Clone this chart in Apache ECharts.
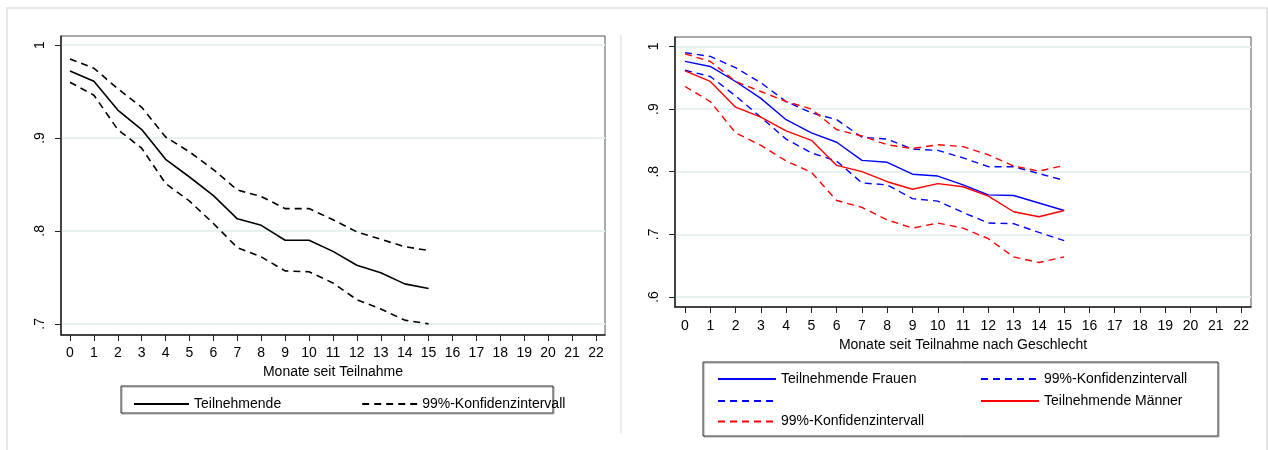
<html>
<head>
<meta charset="utf-8">
<script src="https://cdn.jsdelivr.net/npm/echarts@6/dist/echarts.min.js"></script>
</head>
<body>
<style>
    html, body, #main {
        width: 100%;
        height: 100%;
        margin: 0;
        background: #fff;
    }
</style>
<div id='main'></div>
<script>
// Monate seit Teilnahme
var monate = [0, 1, 2, 3, 4, 5, 6, 7, 8, 9, 10, 11, 12, 13, 14, 15];
var xTicks = [0, 1, 2, 3, 4, 5, 6, 7, 8, 9, 10, 11, 12, 13, 14, 15, 16, 17, 18, 19, 20, 21, 22];
var yTicksLinks = [0.7, 0.8, 0.9, 1];
var yTicksRechts = [0.6, 0.7, 0.8, 0.9, 1];

// linkes Bild: alle Teilnehmenden
var teil = [0.972, 0.961, 0.930, 0.909, 0.877, 0.858, 0.838, 0.813, 0.806, 0.790, 0.790, 0.778, 0.763, 0.755, 0.743, 0.738];
var teilOben = [0.985, 0.975, 0.953, 0.933, 0.901, 0.885, 0.866, 0.844, 0.837, 0.824, 0.824, 0.812, 0.799, 0.791, 0.783, 0.779];
var teilUnten = [0.960, 0.946, 0.909, 0.889, 0.851, 0.832, 0.808, 0.782, 0.772, 0.757, 0.756, 0.744, 0.726, 0.716, 0.704, 0.700];

// rechtes Bild: nach Geschlecht
var frauen = [0.976, 0.968, 0.944, 0.917, 0.883, 0.862, 0.847, 0.818, 0.815, 0.796, 0.793, 0.779, 0.763, 0.762, 0.750, 0.738];
var frauenOben = [0.990, 0.984, 0.966, 0.942, 0.912, 0.894, 0.883, 0.855, 0.852, 0.836, 0.834, 0.822, 0.808, 0.808, 0.797, 0.786];
var frauenUnten = [0.962, 0.952, 0.921, 0.887, 0.852, 0.830, 0.817, 0.782, 0.779, 0.757, 0.753, 0.735, 0.718, 0.717, 0.703, 0.690];
var maenner = [0.961, 0.944, 0.903, 0.887, 0.865, 0.850, 0.810, 0.800, 0.784, 0.772, 0.781, 0.776, 0.761, 0.736, 0.728, 0.738];
var maennerOben = [0.988, 0.976, 0.944, 0.928, 0.912, 0.900, 0.867, 0.857, 0.843, 0.837, 0.843, 0.840, 0.827, 0.809, 0.801, 0.810];
var maennerUnten = [0.936, 0.912, 0.862, 0.842, 0.817, 0.799, 0.754, 0.743, 0.723, 0.710, 0.718, 0.710, 0.693, 0.664, 0.655, 0.664];

var legendText = {
    teil: 'Teilnehmende',
    ci: '99%-Konfidenzintervall',
    frauen: 'Teilnehmende Frauen',
    ciFO: '99%-Konfidenzintervall',
    ciFU: '',
    maenner: 'Teilnehmende Männer',
    ciMU: '99%-Konfidenzintervall'
};

var font = "'Liberation Sans', Arial, sans-serif";

function pairs(ys) {
    return monate.map(function (m, i) { return [m, ys[i]]; });
}
function yLabel(v) {
    return v === 1 ? '1' : String(Math.round(v * 10) / 10).replace('0.', '.');
}

function xAxisFor(grid, name, min, max, gap, margin) {
    return {
        type: 'value', gridIndex: grid, min: min, max: max,
        name: name, nameLocation: 'middle', nameGap: gap,
        nameTextStyle: { color: '#000', fontSize: 14, fontFamily: font },
        axisLine: { show: true, onZero: false, lineStyle: { color: '#222', width: 1.5 } },
        axisTick: { show: true, length: 6, customValues: xTicks, lineStyle: { color: '#222' } },
        axisLabel: { customValues: xTicks, color: '#000', fontSize: 14, fontFamily: font, margin: margin },
        splitLine: { show: false }
    };
}
function yAxisFor(grid, ticks, min, max) {
    return {
        type: 'value', gridIndex: grid, min: min, max: max,
        axisLine: { show: true, onZero: false, lineStyle: { color: '#222', width: 1.5 } },
        axisTick: { show: true, length: 6, customValues: ticks, lineStyle: { color: '#222' } },
        axisLabel: { customValues: ticks, rotate: 90, color: '#000', fontSize: 14, fontFamily: font, margin: 14, formatter: yLabel },
        splitLine: { show: true, customValues: ticks, lineStyle: { color: '#e8f0f2', width: 2 } }
    };
}
function line(name, grid, ys, color, dashed, width) {
    return {
        type: 'line', name: name, xAxisIndex: grid, yAxisIndex: grid,
        data: pairs(ys), symbol: 'none', showSymbol: false, silent: true,
        lineStyle: { color: color, width: width, type: dashed ? [7, 5] : 'solid' },
        itemStyle: { color: color }
    };
}
function legendFor(extra) {
    var base = {
        itemWidth: 58, itemHeight: 14, selectedMode: false,
        itemStyle: { opacity: 0, borderWidth: 0 },
        formatter: function (n) { return legendText[n]; },
        textStyle: { color: '#000', fontSize: 14, fontFamily: font }
    };
    for (var k in extra) base[k] = extra[k];
    return base;
}

var chart = echarts.init(document.getElementById('main'));
var option = {
    backgroundColor: '#fff',
    animation: false,
    grid: [
        { left: 61, top: 36, width: 544, height: 299, show: true, borderColor: '#555', borderWidth: 1 },
        { left: 675, top: 37, width: 576, height: 270, show: true, borderColor: '#555', borderWidth: 1 }
    ],
    xAxis: [
        xAxisFor(0, 'Monate seit Teilnahme', -0.376, 22.38, 28, 11),
        xAxisFor(1, 'Monate seit Teilnahme nach Geschlecht', -0.396, 22.39, 29, 12)
    ],
    yAxis: [
        yAxisFor(0, yTicksLinks, 0.688, 1.0097),
        yAxisFor(1, yTicksRechts, 0.584, 1.015)
    ],
    legend: [
        legendFor({ left: 128, top: 392, itemWidth: 55, itemGap: 80, data: ['teil', 'ci'] }),
        legendFor({ orient: 'vertical', left: 712, top: 367, itemGap: 8, data: ['frauen', 'ciFU', 'ciMU'] }),
        legendFor({ orient: 'vertical', left: 975, top: 367, itemGap: 8, data: ['ciFO', 'maenner'] })
    ],
    graphic: [
        { type: 'polyline', silent: true, shape: { points: [[7, 450], [7, 8], [1267, 8], [1267, 450]] }, style: { stroke: '#dedede', fill: null, lineWidth: 1.5 } },
        { type: 'line', silent: true, shape: { x1: 621, y1: 35, x2: 621, y2: 433 }, style: { stroke: '#e6e6e6', lineWidth: 1.5 } },
        { type: 'rect', silent: true, shape: { x: 121, y: 386, width: 432, height: 27 }, style: { stroke: '#333', fill: null, lineWidth: 1, shadowColor: 'rgba(0,0,0,0.35)', shadowOffsetX: 1, shadowOffsetY: 1 } },
        { type: 'rect', silent: true, shape: { x: 703, y: 362, width: 515, height: 74 }, style: { stroke: '#333', fill: null, lineWidth: 1, shadowColor: 'rgba(0,0,0,0.35)', shadowOffsetX: 1, shadowOffsetY: 1 } }
    ],
    series: [
        line('teil', 0, teil, '#000', false, 1.6),
        line('ci', 0, teilOben, '#000', true, 1.6),
        line('ci', 0, teilUnten, '#000', true, 1.6),
        line('frauen', 1, frauen, '#0000ff', false, 1.4),
        line('ciFO', 1, frauenOben, '#0000ff', true, 1.4),
        line('ciFU', 1, frauenUnten, '#0000ff', true, 1.4),
        line('maenner', 1, maenner, '#ff0000', false, 1.4),
        line('ciMO', 1, maennerOben, '#ff0000', true, 1.4),
        line('ciMU', 1, maennerUnten, '#ff0000', true, 1.4)
    ]
};
chart.setOption(option);
window.onresize = chart.resize;
</script>
</body>
</html>
